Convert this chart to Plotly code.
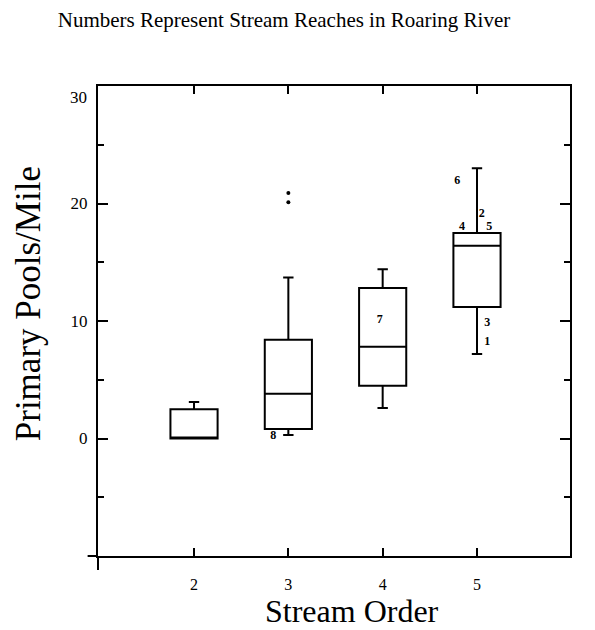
import plotly.graph_objects as go

# ---- data ----
stream_order = [2, 3, 4, 5]
q1_vals = [0.0, 0.8, 4.5, 11.2]
median_vals = [0.0, 3.8, 7.8, 16.4]
q3_vals = [2.5, 8.4, 12.8, 17.5]
lower_whisker = [0.0, 0.3, 2.6, 7.2]
upper_whisker = [3.1, 13.7, 14.4, 23.0]

outlier_order = [3, 3]
outlier_values = [20.1, 20.9]

reach_labels = ["8", "7", "6", "2", "4", "5", "3", "1"]
reach_order = [3, 4, 5, 5, 5, 5, 5, 5]
reach_values = [0.2, 10.1, 21.9, 19.1, 18.0, 18.0, 9.8, 8.2]
# horizontal nudge of each reach label relative to its box centre (x units)
reach_nudge = [-0.16, -0.03, -0.21, 0.05, -0.16, 0.13, 0.11, 0.11]

y_tick_vals = [0, 10, 20, 30]
y_tick_text = ["0", "10", "20", "30"]

FONT = "Liberation Serif, Times New Roman, serif"

fig = go.Figure()

fig.add_trace(go.Box(
    x=stream_order,
    q1=q1_vals, median=median_vals, q3=q3_vals,
    lowerfence=lower_whisker, upperfence=upper_whisker,
    boxpoints=False,
    width=0.5,
    whiskerwidth=0.22,
    fillcolor="white",
    line=dict(color="black", width=2),
    showlegend=False,
    hoverinfo="skip",
))

fig.add_trace(go.Scatter(
    x=outlier_order, y=outlier_values, mode="markers",
    marker=dict(color="black", size=4),
    showlegend=False, hoverinfo="skip",
))

fig.add_trace(go.Scatter(
    x=[o + n for o, n in zip(reach_order, reach_nudge)],
    y=reach_values, mode="text", text=[f"<b>{t}</b>" for t in reach_labels],
    textfont=dict(family=FONT, size=12, color="black"),
    showlegend=False, hoverinfo="skip",
))

# the top tick label sits a little below its tick in the original, so it is
# drawn as an annotation; the other tick labels come from the axis itself
axis_tick_text = y_tick_text[:-1] + [""]

fig.update_layout(
    width=595, height=630,
    margin=dict(l=90, r=33, t=78, b=82),
    paper_bgcolor="white", plot_bgcolor="white",
    font=dict(family=FONT, color="black"),
    title=dict(
        text="Numbers Represent Stream Reaches in Roaring River",
        x=(276) / 595, xanchor="center", y=1 - 12 / 630, yanchor="middle",
        font=dict(family=FONT, size=21, color="black"),
    ),
    xaxis=dict(
        range=[0.982, 5.986], tickvals=stream_order,
        ticks="inside", ticklen=8, tickwidth=1.5, tickcolor="black",
        showline=True, linewidth=2, linecolor="black", mirror="ticks",
        showgrid=False, zeroline=False,
        tickfont=dict(family=FONT, size=16),
        ticklabelstandoff=13,
    ),
    yaxis=dict(
        range=[-10, 30], tickvals=y_tick_vals, ticktext=axis_tick_text,
        ticks="inside", ticklen=10, tickwidth=1.5, tickcolor="black",
        minor=dict(dtick=5, tick0=0, ticks="inside", ticklen=6, tickcolor="black", tickwidth=1.5),
        showline=True, linewidth=2, linecolor="black", mirror="ticks",
        showgrid=False, zeroline=False,
        tickfont=dict(family=FONT, size=17),
        ticklabelstandoff=5,
    ),
    annotations=[
        dict(text=y_tick_text[-1], xref="paper", yref="y",
             x=0, y=y_tick_vals[-1], xanchor="right", yanchor="middle",
             xshift=-9, yshift=-11, showarrow=False,
             font=dict(family=FONT, size=17, color="black")),
        dict(text="Stream Order", xref="paper", yref="paper",
             x=0.538, y=-0.118, xanchor="center", yanchor="middle",
             showarrow=False, font=dict(family=FONT, size=32, color="black")),
        dict(text="Primary Pools/Mile", xref="paper", yref="paper",
             x=-0.148, y=0.536, xanchor="center", yanchor="middle", textangle=-90,
             showarrow=False, font=dict(family=FONT, size=35, color="black")),
    ],
    shapes=[
        dict(type="line", xref="paper", yref="paper", x0=-0.022, x1=0, y0=0, y1=0,
             line=dict(color="black", width=2)),
        dict(type="line", xref="paper", yref="paper", x0=0, x1=0, y0=-0.03, y1=0,
             line=dict(color="black", width=2)),
    ],
)

fig.write_html("out.html")
